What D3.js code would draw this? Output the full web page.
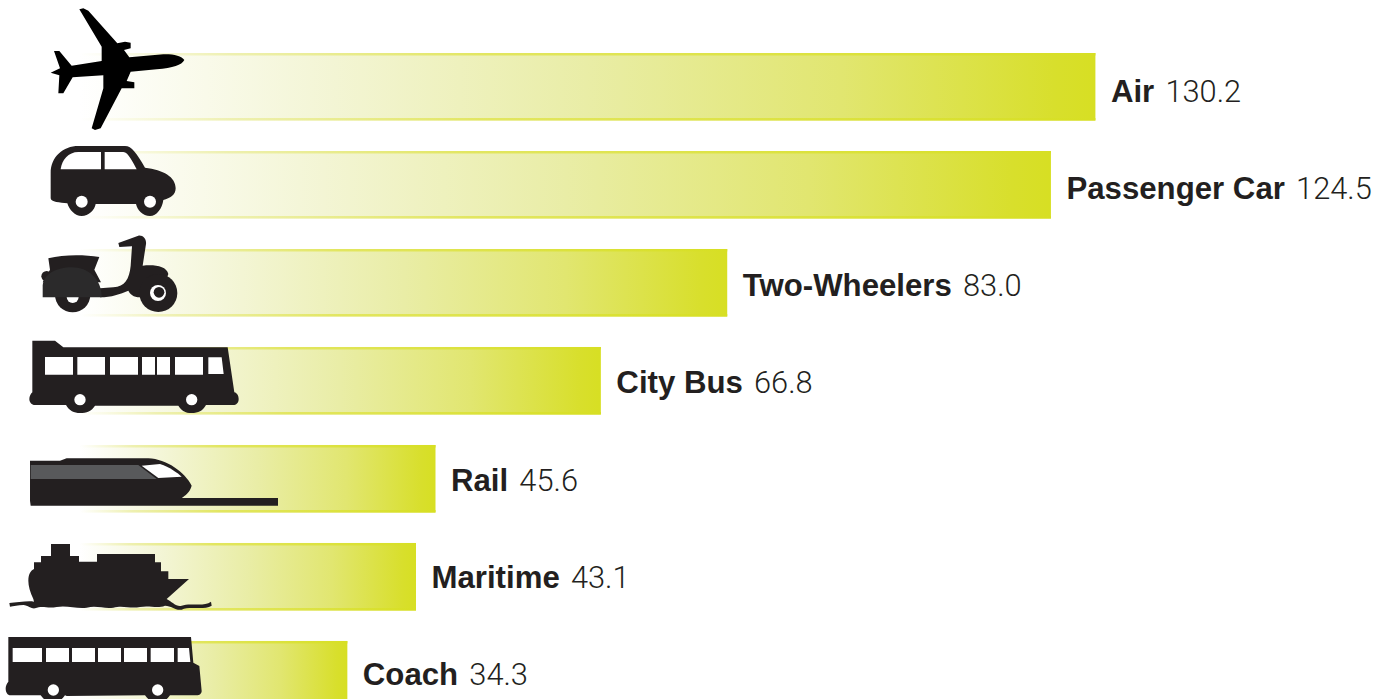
<!DOCTYPE html>
<html>
<head>
<meta charset="utf-8">
<title>Transport modes</title>
<script src="https://cdn.jsdelivr.net/npm/d3@7/dist/d3.min.js"></script>
<style>
html,body{margin:0;padding:0;background:#fff;overflow:hidden}
svg{display:block}
text{fill:#231f20}
.name{font-family:"Liberation Sans",Arial,sans-serif;font-weight:700;font-size:31.2px}
.val{font-family:Roboto,"Liberation Sans",sans-serif;font-weight:300;font-size:30.8px}
</style>
</head>
<body>
<svg id="chart" width="1391" height="699"></svg>
<script>
// Passenger transport modes and their values
const categories = ["Air", "Passenger Car", "Two-Wheelers", "City Bus", "Rail", "Maritime", "Coach"];
const values = [130.2, 124.5, 83.0, 66.8, 45.6, 43.1, 34.3];

const INK = "#231f20";
const svg = d3.select("#chart");

const x = d3.scaleLinear().domain([0, 130.2]).range([79.8, 1095.4]);
const y = d3.scaleBand().domain(categories).range([53, 708.5]).paddingInner(0.311).paddingOuter(0);
const labelY = d3.scalePoint().domain(categories).range([101.5, 685]);

// Fill fades from white at the left edge to lime at the bar's end
const defs = svg.append("defs");
const fill = defs.append("linearGradient").attr("id", "barFill");
[[0, "#ffffff"], [0.25, "#f3f5d4"], [0.5, "#e9eda6"], [0.75, "#e1e670"], [0.96, "#d8df2c"], [1, "#d7df23"]]
  .forEach(([o, c]) => fill.append("stop").attr("offset", o).attr("stop-color", c));
const rim = defs.append("linearGradient").attr("id", "barRim");
[[0, "#ffffff"], [0.15, "#eef0b0"], [0.4, "#e2e660"], [1, "#d7df23"]]
  .forEach(([o, c]) => rim.append("stop").attr("offset", o).attr("stop-color", c));

const rows = categories.map((name, i) => ({name, value: values[i]}));
const row = svg.selectAll("g.row").data(rows).join("g").attr("class", "row");

row.append("rect")
  .attr("x", x(0)).attr("y", d => y(d.name))
  .attr("width", d => x(d.value) - x(0)).attr("height", y.bandwidth())
  .attr("fill", "url(#barFill)");
row.append("rect")
  .attr("x", x(0)).attr("y", d => y(d.name))
  .attr("width", d => x(d.value) - x(0)).attr("height", 2.5)
  .attr("fill", "url(#barRim)");
row.append("rect")
  .attr("x", x(0)).attr("y", d => y(d.name) + y.bandwidth() - 2.5)
  .attr("width", d => x(d.value) - x(0)).attr("height", 2.5)
  .attr("fill", "url(#barRim)");

const label = row.append("text")
  .attr("x", d => x(d.value) + 15.5)
  .attr("y", d => labelY(d.name));
label.append("tspan").attr("class", "name").text(d => d.name + " ");
label.append("tspan").attr("class", "val").attr("dx", 2.5).text(d => d.value.toFixed(1));

// Vehicle silhouettes, drawn at 3x and scaled down; `top` is the bar's top in glyph units
const glyphs = {
  "Air": {top: 159, parts: [
    {d: "M553,180C545,168 520,162 490,163L388,172L372,150L392,145L392,128L375,125L352,130L265,32L250,25L238,28L305,140L305,183L215,197L178,153L162,153L180,205L152,218L178,226L175,280L190,280L218,232L310,226L310,265L275,385L285,390L302,385L365,265L403,265L403,247L380,243L392,215L470,208C520,204 545,195 553,180Z", fill: "#000"}
  ]},
  "Passenger Car": {top: 453, parts: [
    {d: "M152,520C152,470 190,438 235,438L375,438C395,438 410,460 435,503C490,510 527,530 527,565C527,585 510,595 490,600C487,625 470,648 450,648C428,648 412,630 408,612L287,612C284,630 266,648 245,648C225,648 208,630 202,610C180,608 152,606 152,595Z", fill: INK},
    {d: "M182,508C185,480 205,456 235,456L303,456L303,508Z", fill: "#fff"},
    {d: "M314,456L370,456C385,456 400,490 410,508L314,508Z", fill: "#fff"},
    {c: [245, 605, 18], fill: "#fff"},
    {c: [450, 605, 18], fill: "#fff"}
  ]},
  "Two-Wheelers": {top: 60, parts: [
    {c: [218, 197, 53], fill: INK},
    {c: [218, 204, 18], fill: "#fff"},
    {d: "M145,88C190,76 250,76 298,84L283,122L303,160L128,160L150,122Z", fill: INK},
    {c: [140, 142, 16], fill: INK},
    {d: "M355,42L415,20C430,18 440,32 438,45L428,110C460,106 500,110 505,135L480,205L420,205C400,205 390,195 385,185C360,195 335,205 300,205L300,178L340,175C375,172 388,150 392,110L396,52L358,54Z", fill: INK},
    {c: [475, 192, 57], fill: INK},
    {c: [474, 192, 24], fill: "#fff"},
    {c: [477, 190, 16], fill: INK},
    {d: "M128,205L128,170C130,135 170,115 215,115C265,115 305,150 305,205Z", fill: "#2b2a2b"}
  ]},
  "City Bus": {top: 354, parts: [
    {d: "M97,335L165,335L190,355L683,355L703,490C712,492 716,502 716,510C716,522 708,528 700,528L618,528C608,546 595,552 575,552C555,552 545,545 535,530L285,530C275,546 260,552 240,552C222,552 208,545 198,528L105,528C95,528 88,520 88,510C88,502 92,495 97,490Z", fill: INK},
    {d: "M135,384H219V437H135ZM232,384H315V437H232ZM330,384H414V437H330ZM426,384H465V437H426ZM471,384H510V437H471ZM525,384H609V437H525ZM625,385L665,385L671,435L625,435Z", fill: "#fff"},
    {c: [240, 512, 17], fill: "#fff"},
    {c: [575, 512, 17], fill: "#fff"}
  ]},
  "Rail": {top: 48, parts: [
    {d: "M90,95L180,95L200,88L445,88C500,90 555,130 575,170C570,190 555,200 545,207L834,207L834,230L92,230L90,215Z", fill: INK},
    {d: "M92,108L415,108L470,150L92,150Z", fill: "#58595b"},
    {d: "M425,110L480,105C510,115 530,130 545,143L475,147Z", fill: "#fff"}
  ]},
  "Maritime": {top: 342, parts: [
    {d: "M153,345H210V381H237V398H291V375H465V400H483V427H505V450H567L500,510C515,518 530,535 545,530C570,520 610,535 633,518L635,530C610,545 570,530 545,542C525,545 515,530 495,530C470,540 450,528 420,534C390,540 370,528 340,536C310,540 290,528 260,536C230,540 200,528 170,534C140,540 130,528 105,538C95,540 85,530 70,528C55,528 40,532 30,533L28,522C50,520 85,515 102,518L100,510C90,490 85,470 85,455C85,435 92,425 102,420V400H123V381H153Z", fill: INK}
  ]},
  "Coach": {top: 630, parts: [
    {d: "M25,618L573,618L580,695L598,705L605,780C605,788 598,793 590,793L510,793C500,808 490,812 473,812C456,812 445,808 435,793L200,795L195,793C185,808 175,812 160,812C143,812 132,808 122,793L32,793C22,793 17,785 17,772C17,765 20,758 25,752Z", fill: INK},
    {d: "M38,651H126V693H38ZM138,651H207V693H138ZM216,651H285V693H216ZM294,651H363V693H294ZM372,651H441V693H372ZM452,651H522V693H452ZM533,651L567,651L571,693L533,693Z", fill: "#fff"},
    {c: [160, 777, 17], fill: "#fff"},
    {c: [473, 777, 17], fill: "#fff"}
  ]}
};

// Parts paint in their listed order, so later ones sit on top
row.append("g")
  .attr("transform", d => `translate(0,${y(d.name) - glyphs[d.name].top / 3}) scale(${1 / 3})`)
  .each(function (d) {
    const g = d3.select(this);
    glyphs[d.name].parts.forEach(p => {
      if (p.d) g.append("path").attr("d", p.d).attr("fill", p.fill);
      else g.append("circle").attr("cx", p.c[0]).attr("cy", p.c[1]).attr("r", p.c[2]).attr("fill", p.fill);
    });
  });
</script>
</body>
</html>
